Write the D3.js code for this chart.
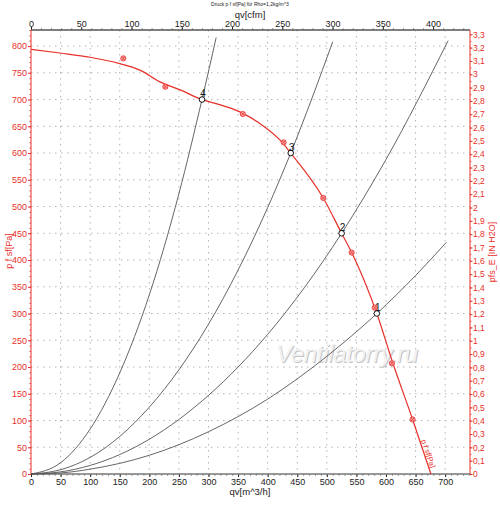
<!DOCTYPE html>
<html lang="en">
<head>
<meta charset="UTF-8">
<title></title>
<style>
  body { margin: 0; background: #fff; }
  text { font-family: "Liberation Sans", Arial, sans-serif; }
  .grid line { stroke: #b4b4b4; stroke-dasharray: 1.5,4.5; }
</style>
</head>
<body>
<svg id="chart"></svg>
<script src="https://cdnjs.cloudflare.com/ajax/libs/d3/7.8.5/d3.min.js"></script>
<script>
// fan curve p_f sf [Pa] vs qv [m^3/h]
var fanQ = [0, 49, 100, 150, 184, 218, 252, 289, 320, 353, 387, 421, 439, 494, 525, 542, 584.5, 612, 645, 676];
var fanP = [794, 787, 779, 767, 755, 733, 718, 700, 690, 677, 655, 624, 600, 516, 450, 414, 300, 206, 102, 0];

// measured points (red markers)
var measQ = [156, 227, 358, 427, 494, 542, 581, 610, 645];
var measP = [777, 724, 673, 620, 516, 414, 311, 207, 102];

// system curves 1..4
var sys1Q = [0, 50, 100, 200, 300, 400, 500, 584.5, 650, 702];
var sys1P = [0, 2, 9, 35, 79, 140, 220, 300, 371, 433];
var sys2Q = [0, 50, 100, 200, 300, 400, 525, 600, 705];
var sys2P = [0, 4, 16, 65, 147, 261, 450, 588, 810];
var sys3Q = [0, 50, 100, 200, 300, 400, 439, 510];
var sys3P = [0, 8, 31, 125, 280, 498, 600, 808];
var sys4Q = [0, 50, 100, 150, 200, 250, 289, 313];
var sys4P = [0, 21, 84, 189, 335, 524, 700, 816];

// operating points
var opQ = [584.5, 525, 439, 289];
var opP = [300, 450, 600, 700];
var opLabels = ["1", "2", "3", "4"];

var qTicks = d3.range(0, 701, 50);
var cfmTicks = d3.range(0, 401, 50);
var paTicks = d3.range(0, 801, 50);
var inTicks = d3.range(0, 34).map(function(i) { return i / 10; });

var W = 500, H = 507;
var pLeft = 31, pRight = 470, pTop = 30, pBottom = 474;
var red = "#e8302a";
var PA_PER_IN = 249.09, CFM_PER_M3H = 0.58858;

var svg = d3.select("#chart").attr("width", W).attr("height", H);

var x = d3.scaleLinear().domain([0, 742]).range([pLeft, pRight]);
var y = d3.scaleLinear().domain([0, 830]).range([pBottom, pTop]);
var xCfm = d3.scaleLinear().domain([0, 742 * CFM_PER_M3H]).range([pLeft, pRight]);
var yIn = d3.scaleLinear().domain([0, 830 / PA_PER_IN]).range([pBottom, pTop]);

// grid
svg.append("g").attr("class", "grid")
    .selectAll("line").data(qTicks.slice(1)).enter().append("line")
    .attr("x1", function(d) { return x(d); }).attr("x2", function(d) { return x(d); })
    .attr("y1", pTop).attr("y2", pBottom);
svg.append("g").attr("class", "grid")
    .selectAll("line").data(paTicks.slice(1)).enter().append("line")
    .attr("x1", pLeft).attr("x2", pRight)
    .attr("y1", function(d) { return y(d); }).attr("y2", function(d) { return y(d); });

// watermark
var wm = svg.append("g").attr("font-style", "italic").attr("font-size", 24);
wm.append("text").attr("x", 277).attr("y", 363).attr("textLength", 142)
    .attr("fill", "#c4c4c4").text("Ventilatorry.ru");
wm.append("text").attr("x", 276).attr("y", 362).attr("textLength", 142)
    .attr("fill", "#f2f2f2").text("Ventilatorry.ru");

// axes
function styleAxis(g, color, size) {
    g.select(".domain").remove();
    g.selectAll(".tick line").attr("stroke", color);
    g.selectAll(".tick text").attr("fill", color).attr("font-size", size)
        .attr("font-family", "Liberation Sans, Arial, sans-serif");
}
function minor(axis, scale, values, size, color) {
    return function(g) {
        g.call(axis(scale).tickValues(values).tickSize(size).tickFormat(""));
        g.select(".domain").remove();
        g.selectAll(".tick line").attr("stroke", color).attr("stroke-width", 0.7);
    };
}

svg.append("g").attr("transform", "translate(" + pLeft + ",0)")
    .call(minor(d3.axisLeft, y, d3.range(0, 831, 10), 1.8, red));
svg.append("g").attr("transform", "translate(" + pLeft + ",0)")
    .call(d3.axisLeft(y).tickValues(paTicks).tickSize(3).tickPadding(1))
    .call(styleAxis, red, 9);

svg.append("g").attr("transform", "translate(" + pRight + ",0)")
    .call(minor(d3.axisRight, yIn, d3.range(0, 67).map(function(i) { return i / 20; }), 1.5, red));
svg.append("g").attr("transform", "translate(" + pRight + ",0)")
    .call(d3.axisRight(yIn).tickValues(inTicks).tickSize(2.5).tickPadding(0.5)
        .tickFormat(function(d) { return d3.format(".1~f")(d).replace(".", ","); }))
    .call(styleAxis, red, 8.5);

svg.append("g").attr("transform", "translate(0," + pBottom + ")")
    .call(minor(d3.axisBottom, x, d3.range(0, 741, 10), 1.8, "#555"));
svg.append("g").attr("transform", "translate(0," + pBottom + ")")
    .call(d3.axisBottom(x).tickValues(qTicks).tickSize(3).tickPadding(2))
    .call(styleAxis, "#222", 9);

svg.append("g").attr("transform", "translate(0," + pTop + ")")
    .call(minor(d3.axisTop, xCfm, d3.range(0, 431, 10), 1.8, "#555"));
svg.append("g").attr("transform", "translate(0," + pTop + ")")
    .call(d3.axisTop(xCfm).tickValues(cfmTicks).tickSize(3).tickPadding(0))
    .call(styleAxis, "#222", 9);

// frame
svg.append("line").attr("x1", pLeft).attr("x2", pRight).attr("y1", pTop).attr("y2", pTop)
    .attr("stroke", "#555").attr("stroke-width", 1.3);
svg.append("line").attr("x1", pLeft).attr("x2", pRight).attr("y1", pBottom).attr("y2", pBottom)
    .attr("stroke", "#777").attr("stroke-width", 1.6);
svg.append("line").attr("x1", pLeft).attr("x2", pLeft).attr("y1", pTop).attr("y2", pBottom)
    .attr("stroke", red).attr("stroke-width", 1);
svg.append("line").attr("x1", pRight).attr("x2", pRight).attr("y1", pTop).attr("y2", pBottom)
    .attr("stroke", red).attr("stroke-width", 1);

// axis titles
svg.append("text").attr("x", 250).attr("y", 5.5).attr("text-anchor", "middle")
    .attr("font-size", 5).attr("fill", "#222").text("Druck p f sf[Pa] für Rho=1,2kg/m^3");
svg.append("text").attr("x", 250).attr("y", 17.5).attr("text-anchor", "middle")
    .attr("font-size", 9.5).attr("fill", "#222").text("qv[cfm]");
svg.append("text").attr("x", 250).attr("y", 495).attr("text-anchor", "middle")
    .attr("font-size", 9.5).attr("fill", "#222").text("qv[m^3/h]");
svg.append("text").attr("transform", "translate(11.5,251) rotate(-90)").attr("text-anchor", "middle")
    .attr("font-size", 9).attr("fill", red).text("p f sf[Pa]");
svg.append("text").attr("transform", "translate(495,252) rotate(-90)").attr("text-anchor", "middle")
    .attr("font-size", 9).attr("fill", red).text("pfs_E [IN H2O]");

// system curves
var line = d3.line().x(function(d) { return x(d[0]); }).y(function(d) { return y(d[1]); })
    .curve(d3.curveMonotoneX);
var systems = [[sys1Q, sys1P], [sys2Q, sys2P], [sys3Q, sys3P], [sys4Q, sys4P]];
svg.append("g").selectAll("path").data(systems).enter().append("path")
    .attr("d", function(s) { return line(d3.zip(s[0], s[1])); })
    .attr("fill", "none").attr("stroke", "#555").attr("stroke-width", 0.9);

// fan curve
svg.append("path").attr("d", line(d3.zip(fanQ, fanP)))
    .attr("fill", "none").attr("stroke", red).attr("stroke-width", 1.2);

// measured markers
var meas = svg.append("g").selectAll("g").data(d3.zip(measQ, measP)).enter().append("g")
    .attr("transform", function(d) { return "translate(" + x(d[0]) + "," + y(d[1]) + ")"; });
meas.append("circle").attr("r", 2.6).attr("fill", "#f7a0a0").attr("stroke", red).attr("stroke-width", 0.8);
meas.append("path").attr("d", "M-1.6,-1.6L1.6,1.6M-1.6,1.6L1.6,-1.6").attr("stroke", red).attr("stroke-width", 0.7);

// curve label along the fan line
var a = [x(fanQ[fanQ.length - 2]), y(fanP[fanP.length - 2])];
var b = [x(fanQ[fanQ.length - 1]), y(fanP[fanP.length - 1])];
var ang = Math.atan2(b[1] - a[1], b[0] - a[0]) * 180 / Math.PI;
svg.append("text").attr("transform", "translate(" + (a[0] + 8.5) + "," + (a[1] + 21) + ") rotate(" + ang + ")")
    .attr("font-size", 7.5).attr("fill", red).text("p f sf[Pa]");

// operating points
var ops = svg.append("g").selectAll("g").data(d3.range(opQ.length)).enter().append("g")
    .attr("transform", function(i) { return "translate(" + x(opQ[i]) + "," + y(opP[i]) + ")"; });
ops.append("circle").attr("r", 2.8).attr("fill", "#fff").attr("stroke", "#111").attr("stroke-width", 1);
ops.append("text").attr("x", 1).attr("y", -2.5).attr("text-anchor", "middle")
    .attr("font-size", 10).attr("fill", "#111").text(function(i) { return opLabels[i]; });
</script>
</body>
</html>
